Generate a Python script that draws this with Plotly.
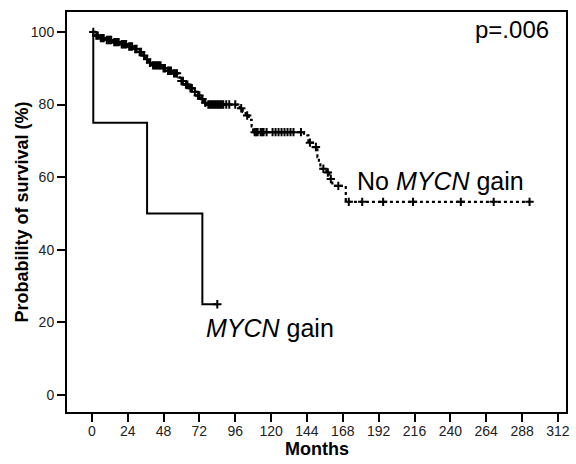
import numpy as np
import plotly.graph_objects as go

# ---- Data ----
# MYCN gain group: step times (months) and survival (%) after each step
gain_times = [0, 1, 37, 74, 84]
gain_surv = [100, 75, 50, 25, 25]
gain_cens_times = [84]
gain_cens_surv = [25]

# No MYCN gain group: step times and survival after each event
nogain_times = [0, 2, 5, 9, 14, 19, 24, 28, 31, 34, 36, 38, 40, 47, 50, 54, 58, 59,
                62, 65, 68, 70, 73, 75, 77, 99, 101, 103, 105, 107, 108, 142, 145,
                148, 151, 152, 153, 157, 159, 161, 170, 293]
nogain_surv = [100, 99.0, 98.3, 97.8, 97.2, 96.6, 96.0, 95.3, 94.5, 93.5, 92.5, 91.5,
               90.8, 90.0, 89.3, 88.6, 87.5, 86.5, 85.5, 84.5, 83.5, 82.5, 81.5, 80.5,
               80.0, 79.0, 78.0, 77.0, 75.8, 74.0, 72.4, 71.5, 69.5, 68.3, 65.5, 63.5,
               62.3, 61.3, 59.5, 57.6, 53.2, 53.2]
nogain_cens_times = [1, 3, 4, 6, 7, 8, 10, 11, 12, 13, 15, 16, 17, 18, 20, 21, 22, 23,
                     25, 26, 27, 29, 30, 32, 33, 35, 37, 39, 41, 42, 43, 44, 45, 46, 48,
                     49, 51, 52, 53, 55, 56, 57, 60, 61, 63, 64, 66, 67, 69, 71, 72, 74,
                     76, 78, 79, 80, 81, 82, 83, 84, 85, 86, 87, 88, 90, 92, 96, 100,
                     104, 109, 110, 111, 113, 114, 115, 117, 121, 123, 125, 127, 129,
                     131, 133, 135, 140, 146, 150, 155, 158, 160, 165, 172, 181, 195,
                     215, 247, 269, 293]

x_ticks = list(range(0, 313, 24))
y_ticks = [0, 20, 40, 60, 80, 100]

# censor marks sit on the KM curve: look up the curve level at each censor time
_idx = np.searchsorted(np.array(nogain_times), np.array(nogain_cens_times), side="right") - 1
nogain_cens_surv = [nogain_surv[i] for i in _idx]

FONT = "Liberation Sans, Arial, sans-serif"

fig = go.Figure()

fig.add_trace(go.Scatter(
    x=nogain_times, y=nogain_surv, mode="lines", line_shape="hv",
    line=dict(color="black", width=2.2, dash="dot"), hoverinfo="skip", showlegend=False))
fig.add_trace(go.Scatter(
    x=nogain_cens_times, y=nogain_cens_surv, mode="markers",
    marker=dict(symbol="cross-thin", size=6, line=dict(color="black", width=2)),
    showlegend=False))

fig.add_trace(go.Scatter(
    x=gain_times, y=gain_surv, mode="lines", line_shape="hv",
    line=dict(color="black", width=2), showlegend=False))
fig.add_trace(go.Scatter(
    x=gain_cens_times, y=gain_cens_surv, mode="markers",
    marker=dict(symbol="cross-thin", size=6, line=dict(color="black", width=2)),
    showlegend=False))

fig.add_annotation(x=281, y=100.8, xref="x", yref="y", text="p=.006", showarrow=False,
                   xanchor="center", yanchor="middle", font=dict(family=FONT, size=24, color="black"))
fig.add_annotation(x=176, y=59, xref="x", yref="y", text="No <i>MYCN</i> gain", showarrow=False,
                   xanchor="left", yanchor="middle", font=dict(family=FONT, size=25, color="black"))
fig.add_annotation(x=75, y=18.5, xref="x", yref="y", text="<i>MYCN</i> gain", showarrow=False,
                   xanchor="left", yanchor="middle", font=dict(family=FONT, size=25, color="black"))

# axis titles placed as annotations for precise positioning
fig.add_annotation(x=0.5, y=-0.0925, xref="paper", yref="paper", text="<b>Months</b>", showarrow=False,
                   xanchor="center", yanchor="middle", font=dict(family=FONT, size=18, color="black"))
fig.add_annotation(x=-0.091, y=0.5, xref="paper", yref="paper", text="<b>Probability of survival (%)</b>",
                   showarrow=False, textangle=-90, xanchor="center", yanchor="middle",
                   font=dict(family=FONT, size=18, color="black"))

axis_common = dict(showline=True, linecolor="black", linewidth=2, mirror=True,
                   ticks="outside", ticklen=8, tickwidth=2, tickcolor="black",
                   showgrid=False, zeroline=False,
                   tickfont=dict(family=FONT, size=14, color="#222"))

fig.update_xaxes(range=[-16.6, 317.4], tickvals=x_ticks, ticktext=[str(v) for v in x_ticks],
                 ticklabelstandoff=-3, **axis_common)
fig.update_yaxes(range=[-4.7, 105.5], tickvals=y_ticks, ticktext=[str(v) for v in y_ticks],
                 **axis_common)

fig.update_layout(width=576, height=464, margin=dict(l=67, r=6, t=12, b=52),
                  plot_bgcolor="white", paper_bgcolor="white", showlegend=False)

fig.write_html("out.html", config={"displayModeBar": False},
               post_script="document.body.style.margin='0';document.body.style.overflow='hidden';")
